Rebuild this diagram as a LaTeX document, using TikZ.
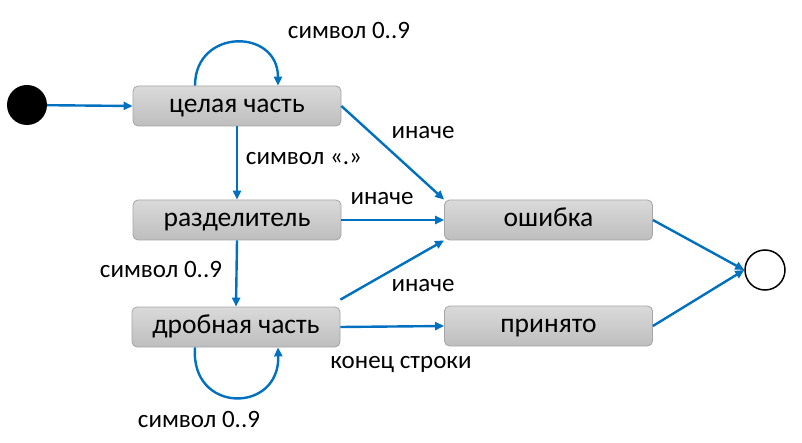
\documentclass[tikz,border=0pt]{standalone}
\usepackage{fontspec}
\setmainfont{Carlito}
\usetikzlibrary{arrows.meta}
\definecolor{arrblue}{HTML}{0070C0}
\definecolor{boxtop}{HTML}{DADADA}
\definecolor{boxbot}{HTML}{BEBEBE}
\definecolor{boxline}{HTML}{A5A5A5}
\tikzset{
  state/.style={draw=boxline, line width=0.8pt, rounded corners=5pt, top color=boxtop, bottom color=boxbot,
    minimum width=208pt, minimum height=40pt, inner sep=0pt, font=\fontsize{27.5}{30}\selectfont,
    text height=17pt, text depth=4.2pt},
  trans/.style={draw=arrblue, line width=2.4pt, -{Triangle[length=9pt,width=8pt]}},
  lbl/.style={font=\fontsize{25}{28}\selectfont, inner sep=0pt, text height=15pt, text depth=3.4pt}
}
\begin{document}
\begin{tikzpicture}[x=1pt,y=-1pt]
\useasboundingbox (0,0) rectangle (802,443);
\node[circle, fill=black, minimum size=40pt, inner sep=0pt] (init) at (27,105) {};
\node[circle, draw=black, line width=1.5pt, fill=white, minimum size=40pt, inner sep=0pt] (fin) at (765,270) {};
\node[state] (int) at (237,106) {целая часть};
\node[state] (sep) at (237,220) {разделитель};
\node[state] (dec) at (236,327) {дробная часть};
\node[state] (err) at (548.5,220) {ошибка};
\node[state] (acc) at (548.5,326) {принято};

\draw[trans] (init) -- (int.west);
\draw[trans] ([xshift=-42pt]int.north) .. controls (195,28) and (278,28) .. ([xshift=41pt]int.north);
\draw[trans] (int.south) -- (sep.north);
\draw[trans] (int.east) -- (err.north west);
\draw[trans] (sep.east) -- (err.west);
\draw[trans] (sep.south) -- (dec.north);
\draw[trans] ([yshift=7pt]dec.north east) -- (err.south west);
\draw[trans] (dec.east) -- (acc.west);
\draw[trans] ([xshift=-41pt]dec.south) .. controls (190,414) and (280,414) .. ([xshift=42pt]dec.south);
\draw[trans] (err.east) -- (fin.west);
\draw[trans] (acc.east) -- (fin.west);

\node[lbl] (l1) at (349,33) {символ 0..9};
\node[lbl] (l2) at (304,159) {символ «.»};
\node[lbl] (l3) at (423,133) {иначе};
\node[lbl] (l4) at (382,199) {иначе};
\node[lbl] (l5) at (161,272) {символ 0..9};
\node[lbl] (l6) at (423,286) {иначе};
\node[lbl] (l7) at (401,363) {конец строки};
\node[lbl] (l8) at (199,422) {символ 0..9};
\end{tikzpicture}
\end{document}
